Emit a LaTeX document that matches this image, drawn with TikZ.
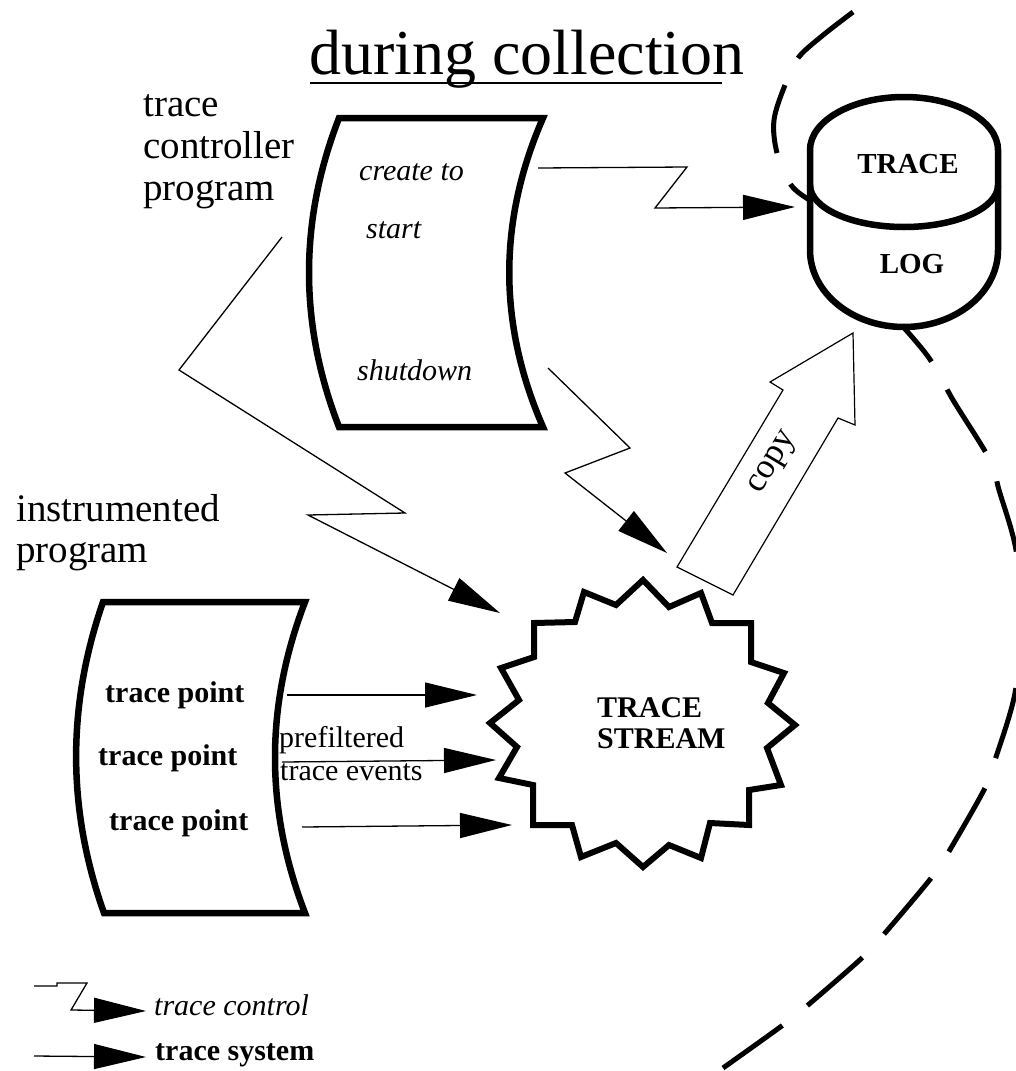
\documentclass[tikz,border=0pt]{standalone}
\usepackage{fontspec}
\setmainfont{Liberation Serif}
\usetikzlibrary{arrows.meta}
\tikzset{
  lbl/.style={inner sep=0pt, anchor=base west, font=\fontsize{39}{42}\selectfont},
  itl/.style={inner sep=0pt, anchor=base west, font=\fontsize{30}{33}\selectfont\itshape},
  bld/.style={inner sep=0pt, anchor=base west, font=\fontsize{30}{33}\selectfont\bfseries},
  bldc/.style={inner sep=0pt, anchor=base, font=\fontsize{29}{32}\selectfont\bfseries},
  rgl/.style={inner sep=0pt, anchor=base west, font=\fontsize{30}{33}\selectfont},
  ttl/.style={inner sep=0pt, anchor=base west, font=\fontsize{64}{70}\selectfont},
  heavy/.style={line width=6.5pt, line join=miter},
  ctrl/.style={line width=1.3pt, line join=miter, -{Triangle[length=52pt,width=25pt]}},
  sys/.style={line width=1.3pt, -{Triangle[length=52pt,width=25pt]}},
  border/.style={line width=5pt},
  blockarrow/.style={line width=1.2pt, fill=white, line join=miter},
}
\begin{document}
\begin{tikzpicture}[x=1pt,y=-1pt]
\useasboundingbox (0,0) rectangle (1016,1071);
\clip (0,0) rectangle (1016,1071);

% title
\node[ttl] (title) at (309,74) {during collection};
\draw[line width=2pt] (310,83) -- (722,83);

% dashed boundary (lower part, runs in under the log)
\draw[border, dash pattern=on 73pt off 32pt] plot[smooth, tension=0.55] coordinates {
 (723,1068) (783,1025) (808,1005) (863,957) (885,933) (932,877) (948,853)
 (985,788) (995,760) (1015,693) (1021,620) (1016,550) (999,490) (990,460)
 (953,400) (938,372) (923,350) (895,318) (862,285)};
% dashed boundary (upper part, runs in under the log)
\draw[border, dash pattern=on 72pt off 30pt on 70pt off 34pt on 40pt off 40pt] plot[smooth, tension=0.55] coordinates {
 (853,12) (822,36) (798,58) (785,85) (774,120) (777,153) (791,185) (812,202) (840,222)};

% trace controller program box
\draw[heavy] (543,118) .. controls (498,221) and (498,324) .. (543,427)
  -- (339,427) .. controls (299,324) and (299,221) .. (339,118) -- cycle;
\node[lbl] (tcA) at (143,116) {trace};
\node[lbl] (tcB) at (143,158) {controller};
\node[lbl] (tcC) at (143,200) {program};
\node[itl] (create) at (359,180) {create to};
\node[itl] (start) at (366,238) {start};
\node[itl] (shutdown) at (357,380) {shutdown};

% instrumented program box
\draw[heavy] (305,602) .. controls (265,706) and (265,809) .. (305,913)
  -- (104,913) .. controls (67,809) and (67,706) .. (103,602) -- cycle;
\node[lbl] (ipA) at (16,521) {instrumented};
\node[lbl] (ipB) at (16,562) {program};
\node[bld] (tp1) at (105,702) {trace point};
\node[bld] (tp2) at (98,765) {trace point};
\node[bld] (tp3) at (109,830) {trace point};
\node[rgl] (pref) at (279,747) {prefiltered};
\node[rgl] (tev) at (280,780) {trace events};

% trace log cylinder
\draw[heavy, fill=white] (810,150) -- (810,250)
  arc[start angle=180, end angle=360, x radius=94pt, y radius=77pt]
  -- (998,150)
  arc[start angle=0, end angle=180, x radius=94pt, y radius=53pt] -- cycle;
\draw[heavy] (810,185) arc[start angle=180, end angle=360, x radius=94pt, y radius=42pt];
\node[bldc] (logA) at (908,173) {TRACE};
\node[bldc] (logB) at (912,273) {LOG};

% trace stream star
\draw[heavy, line width=6pt, fill=white] (643,580) -- (669,607) -- (701,593) -- (712,623)
  -- (751,623) -- (751,662) -- (784,673) -- (768,703) -- (795,725) -- (767,748)
  -- (781,785) -- (749,790) -- (749,825) -- (710,823) -- (701,858) -- (669,845)
  -- (643,867) -- (616,843) -- (581,857) -- (572,825) -- (533,825) -- (533,785)
  -- (499,778) -- (517,747) -- (490,723) -- (519,700) -- (501,668) -- (534,657)
  -- (534,623) -- (575,622) -- (584,592) -- (616,605) -- cycle;
\node[bld] (tsA) at (597,717) {TRACE};
\node[bld] (tsB) at (597,748) {STREAM};

% copy block arrow
\draw[blockarrow] (677,567) -- (783,390) -- (770,382) -- (853,333) -- (855,425)
  -- (838,418) -- (733,595) -- cycle;
\node[inner sep=0pt, rotate=59, font=\fontsize{35}{38}\selectfont] (copy) at (774,463) {copy};

% trace control connectors
\coordinate (c1a) at (538,168);
\coordinate (c1b) at (687,167);
\coordinate (c1c) at (655,208);
\coordinate (c1d) at (795,207);
\draw[ctrl] (c1a) -- (c1b) -- (c1c) -- (c1d);

\coordinate (c2a) at (282,237);
\coordinate (c2b) at (179,370);
\coordinate (c2c) at (405,513);
\coordinate (c2d) at (308,515);
\coordinate (c2e) at (500,613);
\draw[ctrl] (c2a) -- (c2b) -- (c2c) -- (c2d) -- (c2e);

\coordinate (c3a) at (548,368);
\coordinate (c3b) at (630,448);
\coordinate (c3c) at (565,473);
\coordinate (c3d) at (667,553);
\draw[ctrl] (c3a) -- (c3b) -- (c3c) -- (c3d);

% trace system connectors
\coordinate (s1a) at (287,695);
\coordinate (s1b) at (477,695);
\coordinate (s2a) at (282,762);
\coordinate (s2b) at (496,760);
\coordinate (s3a) at (302,827);
\coordinate (s3b) at (512,825);
\draw[sys] (s1a) -- (s1b);
\draw[sys] (s2a) -- (s2b);
\draw[sys] (s3a) -- (s3b);

% legend
\coordinate (l1a) at (34,986);
\coordinate (l1b) at (57,986);
\coordinate (l1c) at (57,983);
\coordinate (l1d) at (87,983);
\coordinate (l1e) at (71,1010);
\coordinate (l1f) at (146,1011);
\draw[ctrl] (l1a) -- (l1b) -- (l1c) -- (l1d) -- (l1e) -- (l1f);
\node[itl] (lgA) at (154,1015) {trace control};
\coordinate (l2a) at (34,1056);
\coordinate (l2b) at (146,1057);
\draw[sys] (l2a) -- (l2b);
\node[bld] (lgB) at (155,1060) {trace system};
\end{tikzpicture}
\end{document}
